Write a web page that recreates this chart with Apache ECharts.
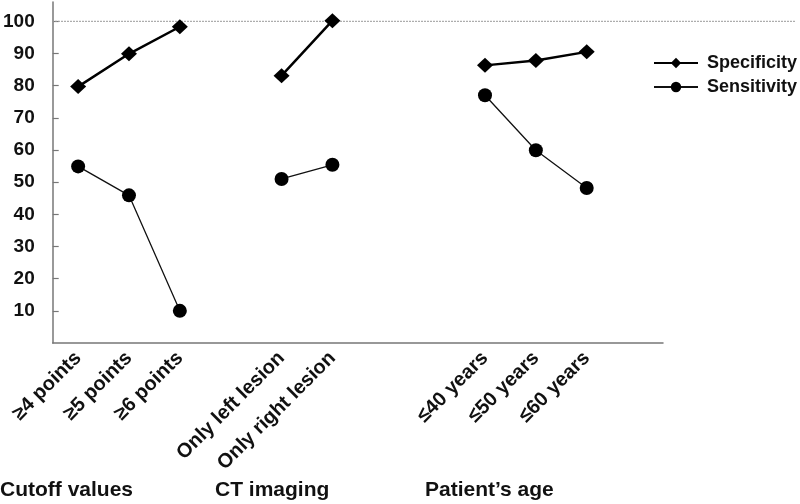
<!DOCTYPE html>
<html><head><meta charset="utf-8">
<script src="https://cdn.jsdelivr.net/npm/echarts@6/dist/echarts.min.js"></script>
<style>html,body{margin:0;padding:0;background:#fff}#c{width:800px;height:504px}</style>
</head><body><div id="c"></div>
<script>
const categories = ['≥4 points','≥5 points','≥6 points','','Only left lesion','Only right lesion','','','≤40 years','≤50 years','≤60 years',''];
const specificity = [79.7, 89.9, 98.3, null, 83.1, 100.2, null, null, 86.3, 87.8, 90.5, null];
const sensitivity = [54.9, 45.9, 10.0, null, 51.0, 55.4, null, null, 77.0, 59.9, 48.2, null];
const yTicks = [10,20,30,40,50,60,70,80,90,100];
const refLine = [[0,100],[1,100]];
const groupTitles = ['Cutoff values','CT imaging','Patient\u2019s age'];

const chart = echarts.init(document.getElementById('c'), null, {renderer:'canvas'});
const FONT = 'Liberation Sans, Arial, sans-serif';
chart.setOption({
  animation:false,
  backgroundColor:'#fff',
  grid:[
    {left:52, right:137, top:2, bottom:161},
    {left:52, right:5, top:2, bottom:161}
  ],
  xAxis:[
    {type:'category', gridIndex:0, data:categories, boundaryGap:true,
     axisLine:{lineStyle:{color:'#777', width:1.5}},
     axisTick:{inside:true, length:7, alignWithLabel:false, lineStyle:{color:'#777', width:1.2}},
     axisLabel:{interval:0, rotate:45, margin:12, color:'#111', fontFamily:FONT, fontWeight:'bold', fontSize:20}},
    {type:'value', gridIndex:1, min:0, max:1, show:false}
  ],
  yAxis:[
    {type:'value', gridIndex:0, min:0, max:106, interval:10,
     axisLine:{show:true, lineStyle:{color:'#777', width:1.5}},
     axisTick:{show:true, inside:true, length:6, customValues:yTicks, lineStyle:{color:'#777', width:1.2}},
     axisLabel:{customValues:yTicks, margin:18, color:'#111', fontFamily:FONT, fontWeight:'bold', fontSize:19},
     splitLine:{show:false}},
    {type:'value', gridIndex:1, min:0, max:106, show:false, splitLine:{show:false}}
  ],
  legend:{
    orient:'vertical', left:648, top:49, itemWidth:44, itemHeight:13, itemGap:6,
    textStyle:{color:'#111', fontFamily:FONT, fontWeight:'bold', fontSize:18, padding:[0,0,0,4]},
    data:['Specificity','Sensitivity']
  },
  series:[
    {type:'line', xAxisIndex:1, yAxisIndex:1, data:refLine, symbol:'none', silent:true,
     lineStyle:{color:'#999', width:1, type:[2,1]}, z:1},
    {name:'Specificity', type:'line', data:specificity, connectNulls:false,
     symbol:'diamond', symbolSize:[16,15],
     itemStyle:{color:'#000'}, lineStyle:{color:'#000', width:2.5}, z:3},
    {name:'Sensitivity', type:'line', data:sensitivity, connectNulls:false,
     symbol:'circle', symbolSize:14,
     itemStyle:{color:'#000'}, lineStyle:{color:'#111', width:1.3}, z:3}
  ],
  graphic:[
    {type:'text', left:0, top:480, style:{text:groupTitles[0], font:'bold 21px '+FONT, fill:'#111'}},
    {type:'text', left:215, top:480, style:{text:groupTitles[1], font:'bold 21px '+FONT, fill:'#111'}},
    {type:'text', left:425, top:480, style:{text:groupTitles[2], font:'bold 21px '+FONT, fill:'#111'}}
  ]
});
</script></body></html>
